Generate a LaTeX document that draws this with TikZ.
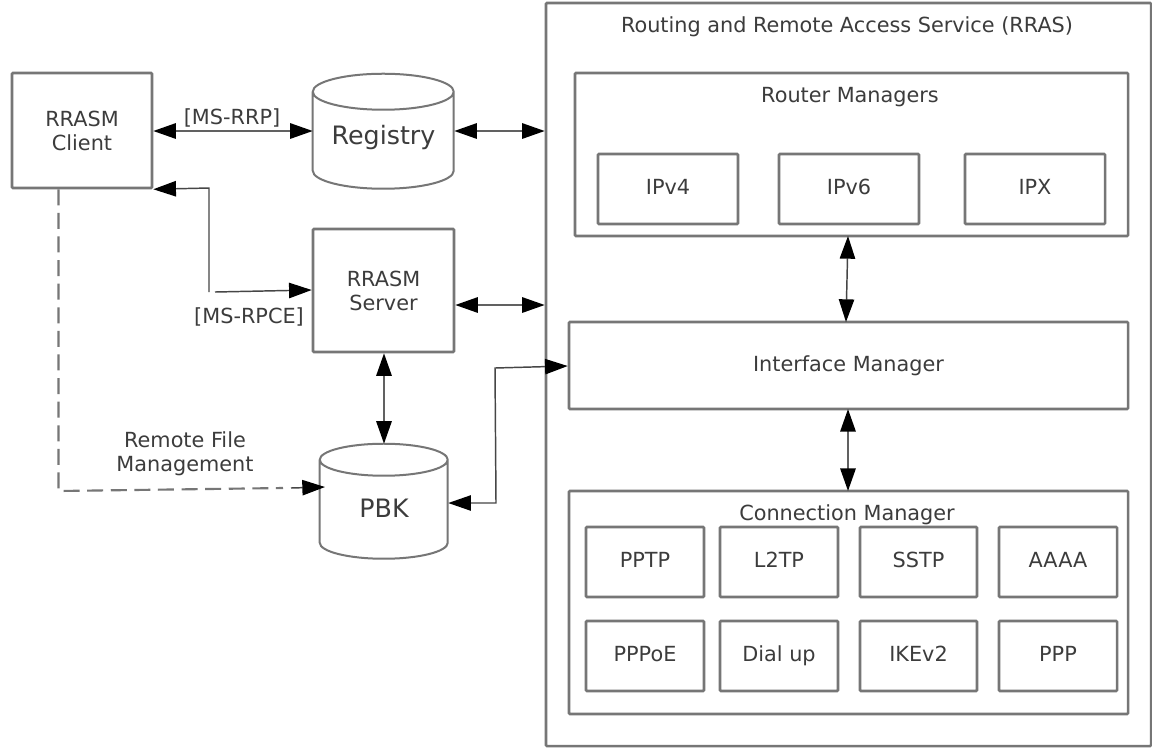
\documentclass[tikz,border=0pt]{standalone}
\usepackage{fontspec}
\setmainfont{DejaVu Sans}
\usetikzlibrary{arrows.meta}
\definecolor{edge}{RGB}{118,118,118}
\definecolor{ink}{RGB}{60,60,60}
\definecolor{wire}{RGB}{70,70,70}
\newcommand{\PlaceBox}[6]{\node[#6,minimum width={(#4-#2)*0.75pt},minimum height={(#5-#3)*0.75pt}] (#1) at ({(#2+#4)/2},{(#3+#5)/2})}
\newcommand{\ST}{\rule[-6.6pt]{0pt}{21.6pt}}
\tikzset{
  x=0.75pt,y=-0.75pt,
  boxstyle/.style={draw=edge,line width=1.9pt,rounded corners=0.7pt,inner sep=0pt,align=center,text=ink,font=\fontsize{15.6}{18}\selectfont},
  lab/.style={inner sep=0pt,align=center,text=ink,font=\fontsize{15.6}{18}\selectfont},
  canlab/.style={inner sep=0pt,align=center,text=ink,font=\fontsize{19}{22}\selectfont},
  canline/.style={draw=edge,line width=1.5pt},
  tipboth/.style={line width=1.1pt,color=wire,{Triangle[length=17pt,width=11.5pt,color=black]}-{Triangle[length=17pt,width=11.5pt,color=black]}},
  tipend/.style={line width=1.1pt,color=wire,-{Triangle[length=17pt,width=11.5pt,color=black]}},
  heavy/.style={line width=1.6pt,color=black!62},
  dashline/.style={line width=1.6pt,color=edge,dash pattern=on 12pt off 5.7pt},
}
\begin{document}
\begin{tikzpicture}
\useasboundingbox (0,0) rectangle (1152,751);
\fill[white] (0,0) rectangle (1152,751);
% outer container
\PlaceBox{rras}{546}{3}{1151}{746}{boxstyle}{};
\node[lab] (rrastitle) at (847,27) {\ST Routing and Remote Access Service (RRAS)};
% router managers
\PlaceBox{rm}{575}{73}{1128}{236}{boxstyle}{};
\node[lab] (rmtitle) at (850,97) {\ST Router Managers};
\PlaceBox{ipfour}{598}{154}{738}{224}{boxstyle}{\ST IPv4};
\PlaceBox{ipsix}{779}{154}{919}{224}{boxstyle}{\ST IPv6};
\PlaceBox{ipx}{965}{154}{1105}{224}{boxstyle}{\ST IPX};
% interface manager
\PlaceBox{im}{569}{322}{1128}{409}{boxstyle}{\ST Interface Manager};
% connection manager
\PlaceBox{cm}{569}{491}{1128}{714}{boxstyle}{};
\node[lab] (cmtitle) at (847,515) {\ST Connection Manager};
\PlaceBox{pptp}{586}{527}{704}{597}{boxstyle}{\ST PPTP};
\PlaceBox{ltwotp}{720}{527}{838}{597}{boxstyle}{\ST L2TP};
\PlaceBox{sstp}{860}{527}{977}{597}{boxstyle}{\ST SSTP};
\PlaceBox{aaaa}{999}{527}{1117}{597}{boxstyle}{\ST AAAA};
\PlaceBox{pppoe}{586}{621}{704}{691}{boxstyle}{\ST PPPoE};
\PlaceBox{dialup}{720}{621}{838}{691}{boxstyle}{\ST Dial up};
\PlaceBox{ikev}{860}{621}{977}{691}{boxstyle}{\ST IKEv2};
\PlaceBox{ppp}{999}{621}{1117}{691}{boxstyle}{\ST PPP};
% left side
\PlaceBox{client}{12}{73}{152}{188}{boxstyle}{RRASM\\Client};
\PlaceBox{server}{313}{229}{454}{352}{boxstyle}{RRASM\\Server};
% cylinders
\node[canlab,minimum width=105.75pt,minimum height=86.25pt] (reg) at (383.5,131.5) {};
\node[canlab] (regtext) at (383.5,138) {Registry};
\draw[canline] (reg.north west) ++(0,18) -- ++(0,79)
  arc[start angle=180,end angle=360,x radius=52.875pt,y radius=13.5pt]
  -- ++(0,-79)
  arc[start angle=0,end angle=360,x radius=52.875pt,y radius=13.5pt];
\node[canlab,minimum width=96pt,minimum height=86.25pt] (pbk) at (384,501.5) {};
\node[canlab] (pbktext) at (384,508) {PBK};
\draw[canline] (pbk.north west) ++(0,16) -- ++(0,83)
  arc[start angle=180,end angle=360,x radius=48pt,y radius=12pt]
  -- ++(0,-83)
  arc[start angle=0,end angle=360,x radius=48pt,y radius=12pt];
% connectors
\coordinate (regeast) at (reg.east |- 0,131);
\coordinate (regwest) at (reg.west |- 0,131);
\coordinate (clienteast) at (client.east |- 0,131);
\coordinate (rrasreg) at (rras.west |- 0,131);
\coordinate (srveast) at (server.east |- 0,305);
\coordinate (rrassrv) at (rras.west |- 0,305);
\coordinate (imwest) at (im.west |- 0,366);
\coordinate (pbkeast) at (pbk.east |- 0,503);
\coordinate (rmsouth) at (848,236);
\coordinate (imnorth) at (846,322);
\coordinate (imsouth) at (848,409);
\coordinate (cmnorth) at (848,491);
\draw[tipboth,heavy] (clienteast) -- (regwest);
\draw[tipboth,heavy] (regeast) -- (rrasreg);
\draw[tipboth,heavy] (srveast) -- (rrassrv);
\draw[tipboth,heavy] (server.south -| pbk.north) -- (pbk.north);
\draw[tipboth] (rmsouth) -- (imnorth);
\draw[tipboth,heavy] (imsouth) -- (cmnorth);
\draw[tipboth] (pbkeast) -- (496,503) -- (495,368) -- (imwest);
\coordinate (srvin) at (server.west |- 0,290);
\draw[tipend,{Triangle[length=17pt,width=11.5pt,color=black]}-] (client.south east) -- (209,188) -- (209,292);
\draw[tipend] (215,292) -- (srvin);
\coordinate (pbkin) at (325,487);
\draw[dashline] (client.south -| 58.5,0) -- (58.5,491) -- (283,488);
\draw[tipend] (291,488) -- (pbkin);
% labels
\node[lab] (rrp) at (232,118) {[MS-RRP]};
\node[lab] (rpce) at (249,317) {[MS-RPCE]};
\node[lab] (rfm) at (185,454) {Remote File\\Management};
\end{tikzpicture}
\end{document}
